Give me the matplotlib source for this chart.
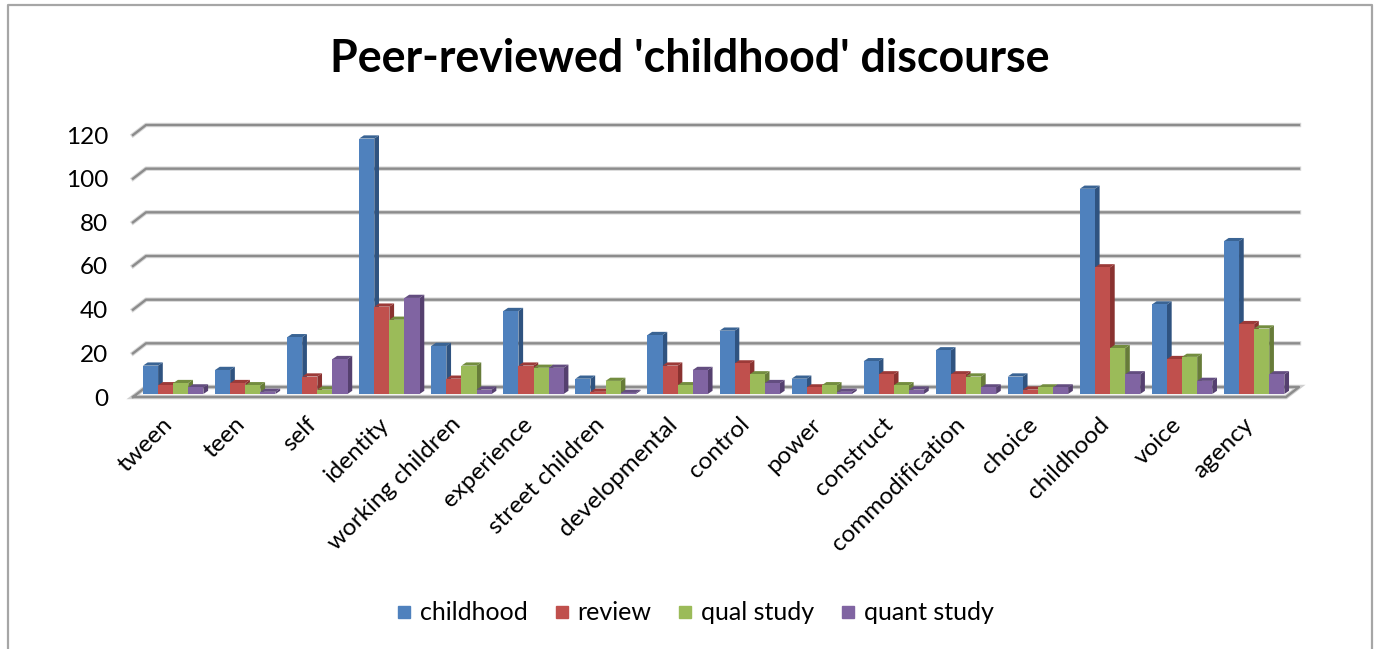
import numpy as np
import matplotlib
matplotlib.use('Agg')
import matplotlib.pyplot as plt
from matplotlib.patches import Patch

plt.rcParams['font.family'] = ['Lato', 'DejaVu Sans']

terms = ['tween', 'teen', 'self', 'identity', 'working children', 'experience',
         'street children', 'developmental', 'control', 'power', 'construct',
         'commodification', 'choice', 'childhood', 'voice', 'agency']
childhood = [13, 11, 26, 117, 22, 38, 7, 27, 29, 7, 15, 20, 8, 94, 41, 70]
review = [4, 5, 8, 40, 7, 13, 1, 13, 14, 3, 9, 9, 2, 58, 16, 32]
qual_study = [5, 4, 2, 34, 13, 12, 6, 4, 9, 4, 4, 8, 3, 21, 17, 30]
quant_study = [3, 1, 16, 44, 2, 12, 0.5, 11, 5, 1, 2, 3, 3, 9, 6, 9]
yticks = [0, 20, 40, 60, 80, 100, 120]

series = [('childhood', childhood, '#4F81BD', '#2F5380', '#3A6494'),
          ('review', review, '#C0504D', '#8A3230', '#9C3A38'),
          ('qual study', qual_study, '#9BBB59', '#677C39', '#738D3F'),
          ('quant study', quant_study, '#8064A2', '#55406F', '#634D80')]

W, H = 1376, 649
fig = plt.figure(figsize=(W/100, H/100), dpi=100)
# front edge of the floor: x 133-1286 px, y 397 px, 120 at 135 px
ax = fig.add_axes([133/W, 1-397/H, (1286-133)/W, (397-135)/H])
ax.set_xlim(0, 16)
ax.set_ylim(0, 120)
for s in ax.spines.values():
    s.set_visible(False)

ux = (1286-133)/16    # px per category
uy = (397-135)/120    # px per value unit
wall_dx, wall_dy = 13/ux, 10/uy
bar_dx, bar_dy = 4.7/ux, 3.2/uy
base = 3/uy
bw = 15.1/ux
left = 10/ux

grid = '#8C8C8C'
# floor and back wall lines
floor_x = [0, 16, 16+wall_dx, wall_dx, 0]
floor_y = [0, 0, wall_dy, wall_dy, 0]
ax.fill(floor_x, floor_y, fc='white', ec='#D0D0D0', lw=3.2, clip_on=False, zorder=1)
ax.plot(floor_x, floor_y, color=grid, lw=1.7, clip_on=False, zorder=1.1)
for v in yticks[1:]:
    ax.plot([0, wall_dx, 16+wall_dx], [v, v+wall_dy, v+wall_dy], color='#D8D8D8', lw=3.2,
            clip_on=False, zorder=1)
    ax.plot([0, wall_dx, 16+wall_dx], [v, v+wall_dy, v+wall_dy], color=grid, lw=1.7,
            clip_on=False, zorder=1.1)

z = 3
for i in range(len(terms)):
    for j, (name, vals, front, side, top) in enumerate(series):
        x0 = i + left + j*bw
        x1 = x0 + bw
        v = vals[i]
        # right side and top of the box, then the front face over them
        ax.fill([x1, x1+bar_dx, x1+bar_dx, x1], [base, base+bar_dy, base+v+bar_dy, base+v],
                color=side, lw=0, clip_on=False, zorder=z)
        ax.fill([x0, x1, x1+bar_dx, x0+bar_dx], [base+v, base+v, base+v+bar_dy, base+v+bar_dy],
                color=top, lw=0, clip_on=False, zorder=z)
        ax.bar(x0, v, bw, bottom=base, align='edge', color=front, lw=0, zorder=z+0.1)
        z += 1

ax.set_yticks(yticks)
ax.set_yticklabels(yticks, fontsize=17.5, color='black')
ax.tick_params(axis='both', length=0)
ax.tick_params(axis='y', pad=18)
ax.set_xticks(np.arange(16)+0.40)
ax.set_xticklabels(terms, rotation=45, ha='right', rotation_mode='anchor', fontsize=17.5, color='black')
ax.tick_params(axis='x', pad=12)

fig.text(690/W, 1-59/H, "Peer-reviewed 'childhood' discourse", ha='center', va='center',
         fontsize=32.2, fontweight='bold', color='black')

handles = [Patch(color=s[2], label=s[0]) for s in series]
fig.legend(handles=handles, loc='center', bbox_to_anchor=(696/W, 1-613/H), ncol=4, frameon=False,
           fontsize=18, handlelength=0.48, handleheight=0.36, handletextpad=0.4, columnspacing=1.1)

# chart frame, cut off at the bottom of the picture
fig.add_artist(plt.Line2D([8/W, 8/W, 1372/W, 1372/W], [0, 1-5/H, 1-5/H, 0], color='#A6A6A6', lw=1.6))

fig.savefig('out.png', dpi=100)
plt.close()
